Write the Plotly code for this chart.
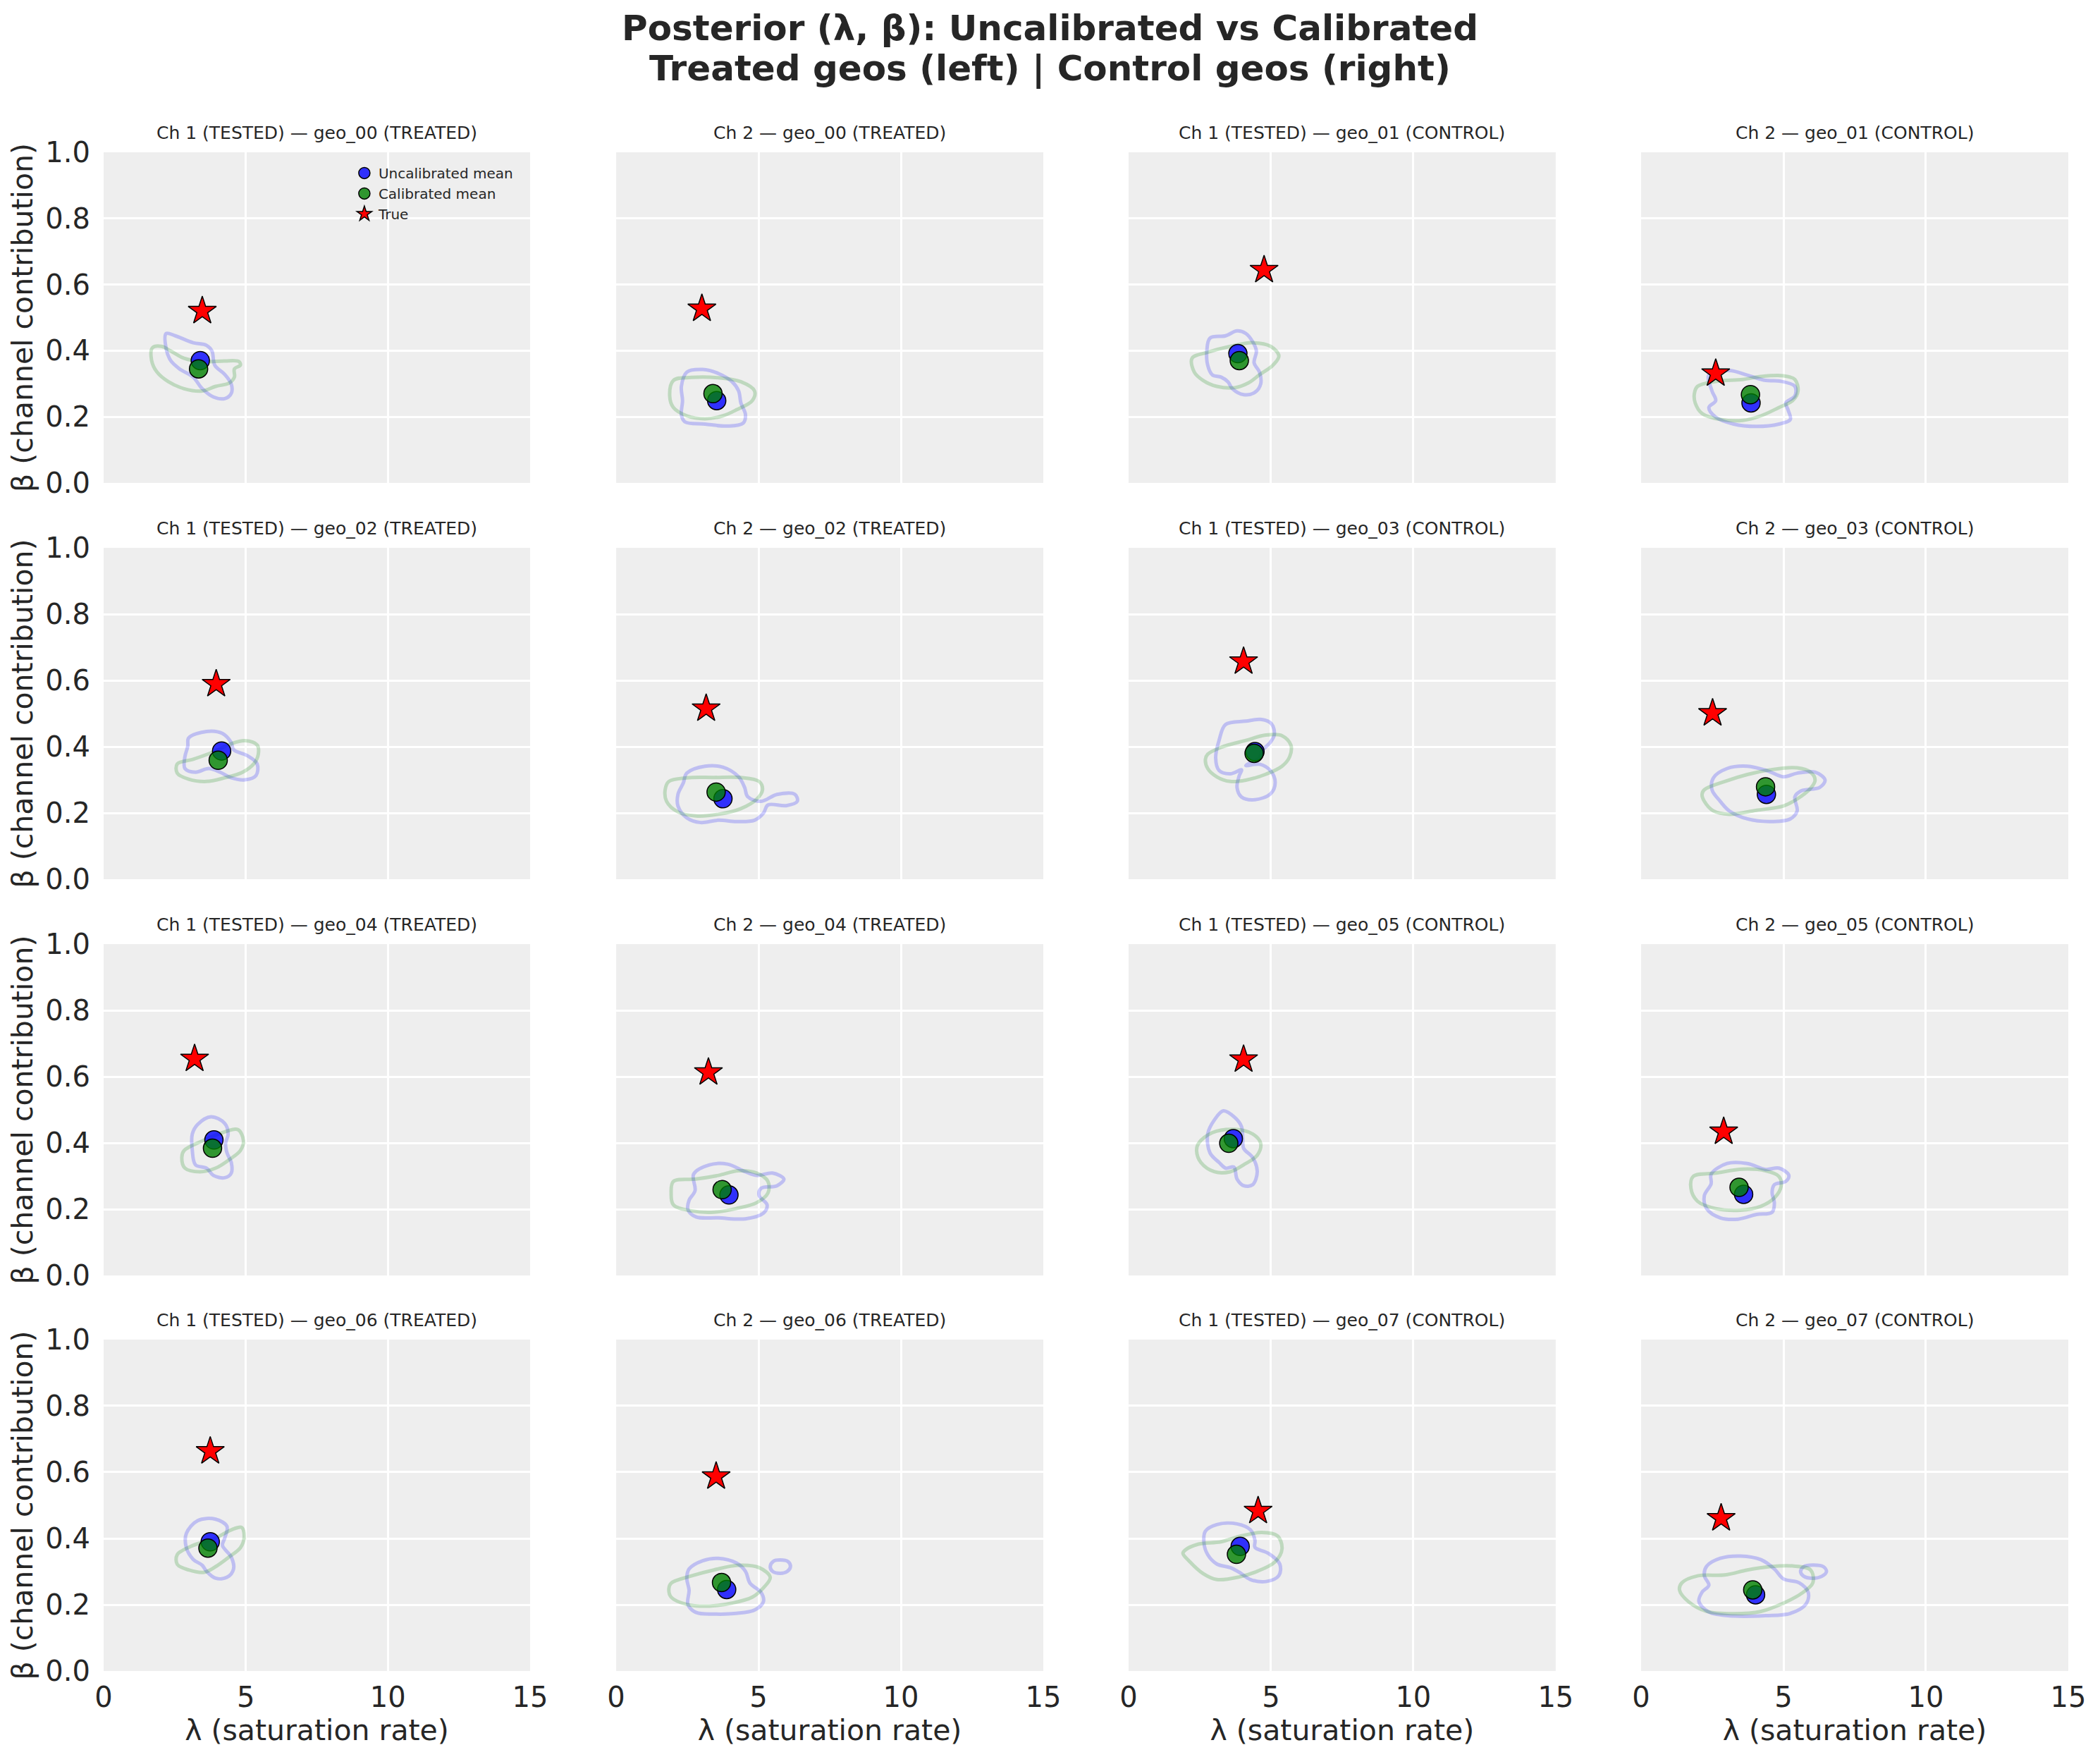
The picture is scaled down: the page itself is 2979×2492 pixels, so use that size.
import plotly.graph_objects as go
from plotly.subplots import make_subplots

# geos shown in each row (treated on the left pair, control on the right pair)
TREATED_GEOS = ["geo_00", "geo_02", "geo_04", "geo_06"]
CONTROL_GEOS = ["geo_01", "geo_03", "geo_05", "geo_07"]

# per panel values, row-major (row: geo pair, col: ch1 treated, ch2 treated, ch1 control, ch2 control)
TRUE_LAM = [3.47, 3.01, 4.76, 2.62, 3.96, 3.16, 4.04, 2.51, 3.20, 3.24, 4.04, 2.90, 3.75, 3.51, 4.55, 2.81]
TRUE_BETA = [0.520, 0.527, 0.644, 0.331, 0.589, 0.515, 0.657, 0.501, 0.654, 0.613, 0.652, 0.434, 0.663, 0.587, 0.483, 0.461]
UNCAL_LAM = [3.40, 3.53, 3.84, 3.86, 4.15, 3.75, 4.44, 4.40, 3.88, 3.96, 3.68, 3.60, 3.75, 3.88, 3.92, 4.02]
UNCAL_BETA = [0.370, 0.249, 0.391, 0.242, 0.387, 0.243, 0.385, 0.256, 0.409, 0.243, 0.413, 0.245, 0.390, 0.246, 0.376, 0.230]
CAL_LAM = [3.34, 3.40, 3.89, 3.84, 4.03, 3.51, 4.41, 4.37, 3.83, 3.72, 3.52, 3.44, 3.67, 3.70, 3.79, 3.92]
CAL_BETA = [0.345, 0.270, 0.370, 0.267, 0.359, 0.263, 0.380, 0.279, 0.384, 0.259, 0.399, 0.266, 0.371, 0.267, 0.352, 0.245]

# KDE outlines, (lambda, beta)
UNCAL_GEO00_CH1 = [(2.20, 0.452), (2.52, 0.445), (3.15, 0.424), (3.62, 0.416), (3.81, 0.399), (3.91, 0.356),
                   (4.26, 0.328), (4.49, 0.299), (4.49, 0.271), (4.26, 0.255), (3.86, 0.260), (3.47, 0.285),
                   (3.15, 0.320), (2.67, 0.345), (2.36, 0.370), (2.20, 0.406)]
CAL_GEO00_CH1 = [(1.72, 0.409), (2.04, 0.413), (2.36, 0.399), (2.83, 0.377), (3.47, 0.367), (4.26, 0.369),
                 (4.76, 0.367), (4.81, 0.356), (4.60, 0.345), (4.60, 0.320), (4.41, 0.302), (3.94, 0.292),
                 (3.47, 0.278), (2.83, 0.285), (2.28, 0.306), (1.88, 0.335), (1.69, 0.370)]
UNCAL_GEO00_CH2 = [(2.48, 0.335), (3.04, 0.343), (3.59, 0.331), (4.07, 0.306), (4.30, 0.278), (4.38, 0.242),
                   (4.54, 0.207), (4.46, 0.181), (3.91, 0.172), (3.12, 0.178), (2.41, 0.185), (2.29, 0.206),
                   (2.33, 0.249), (2.29, 0.292)]
CAL_GEO00_CH2 = [(2.01, 0.310), (2.64, 0.319), (3.59, 0.318), (4.38, 0.306), (4.86, 0.278), (4.78, 0.249),
                 (4.22, 0.221), (3.75, 0.203), (3.12, 0.194), (2.48, 0.203), (2.01, 0.228), (1.88, 0.263)]
UNCAL_GEO01_CH1 = [(2.86, 0.438), (3.41, 0.445), (3.81, 0.460), (4.12, 0.452), (4.36, 0.427), (4.49, 0.399),
                   (4.41, 0.363), (4.60, 0.335), (4.64, 0.299), (4.44, 0.274), (4.04, 0.267), (3.65, 0.285),
                   (3.49, 0.306), (3.25, 0.320), (2.94, 0.327), (2.78, 0.356), (2.75, 0.399)]
CAL_GEO01_CH1 = [(2.23, 0.377), (2.78, 0.395), (3.57, 0.413), (4.36, 0.424), (4.99, 0.413), (5.28, 0.384),
                 (5.07, 0.356), (4.60, 0.327), (4.20, 0.302), (3.73, 0.288), (3.10, 0.292), (2.62, 0.310),
                 (2.31, 0.335)]
UNCAL_GEO01_CH2 = [(2.38, 0.327), (3.10, 0.340), (3.73, 0.326), (4.37, 0.310), (4.87, 0.308), (5.40, 0.292),
                   (5.40, 0.263), (5.08, 0.242), (5.16, 0.221), (5.24, 0.192), (4.84, 0.178), (4.05, 0.171),
                   (3.25, 0.178), (2.62, 0.199), (2.38, 0.228), (2.62, 0.249), (2.49, 0.278)]
CAL_GEO01_CH2 = [(1.98, 0.292), (2.62, 0.307), (3.57, 0.313), (4.21, 0.322), (5.00, 0.324), (5.40, 0.313),
                 (5.51, 0.278), (5.32, 0.249), (4.84, 0.228), (4.21, 0.203), (3.57, 0.189), (2.78, 0.192),
                 (2.14, 0.210), (1.90, 0.242), (1.87, 0.270)]
UNCAL_GEO02_CH1 = [(2.99, 0.426), (3.62, 0.446), (4.18, 0.440), (4.49, 0.412), (4.57, 0.391), (5.05, 0.373),
                   (5.40, 0.348), (5.36, 0.313), (4.97, 0.300), (4.49, 0.306), (4.10, 0.323), (3.70, 0.334),
                   (3.23, 0.323), (2.86, 0.334), (2.86, 0.370), (2.96, 0.401)]
CAL_GEO02_CH1 = [(2.59, 0.348), (3.15, 0.362), (3.86, 0.384), (4.49, 0.409), (4.97, 0.418), (5.40, 0.405),
                 (5.44, 0.377), (5.28, 0.348), (4.89, 0.323), (4.26, 0.306), (3.62, 0.295), (2.99, 0.302),
                 (2.59, 0.320)]
UNCAL_GEO02_CH2 = [(2.48, 0.320), (3.12, 0.341), (3.75, 0.338), (4.30, 0.309), (4.51, 0.277), (4.62, 0.249),
                   (5.09, 0.235), (5.65, 0.256), (6.28, 0.256), (6.36, 0.235), (5.97, 0.222), (5.33, 0.224),
                   (5.17, 0.199), (4.86, 0.178), (4.22, 0.174), (3.59, 0.178), (2.96, 0.171), (2.48, 0.185),
                   (2.17, 0.221), (2.17, 0.256), (2.36, 0.291)]
CAL_GEO02_CH2 = [(1.85, 0.295), (2.48, 0.306), (3.43, 0.307), (4.38, 0.307), (5.02, 0.295), (5.14, 0.270),
                 (4.94, 0.242), (4.38, 0.213), (3.59, 0.196), (2.80, 0.191), (2.17, 0.203), (1.77, 0.235),
                 (1.72, 0.270)]
UNCAL_GEO03_CH1 = [(3.41, 0.467), (4.12, 0.477), (4.68, 0.482), (5.02, 0.469), (5.12, 0.437), (4.96, 0.411),
                   (4.68, 0.387), (4.60, 0.366), (4.28, 0.352), (4.12, 0.343), (4.60, 0.347), (4.99, 0.327),
                   (5.15, 0.292), (4.99, 0.258), (4.44, 0.240), (3.97, 0.248), (3.81, 0.277), (3.89, 0.313),
                   (3.97, 0.330), (3.57, 0.318), (3.18, 0.328), (3.06, 0.366), (3.18, 0.419)]
CAL_GEO03_CH1 = [(2.78, 0.377), (3.25, 0.398), (4.12, 0.419), (4.83, 0.435), (5.39, 0.433), (5.70, 0.405),
                 (5.66, 0.370), (5.39, 0.341), (4.83, 0.317), (4.12, 0.299), (3.57, 0.295), (3.10, 0.309),
                 (2.78, 0.334), (2.70, 0.362)]
UNCAL_GEO03_CH2 = [(2.54, 0.306), (3.02, 0.334), (3.73, 0.341), (4.44, 0.327), (5.00, 0.309), (5.48, 0.320),
                   (6.11, 0.323), (6.46, 0.299), (6.27, 0.277), (5.63, 0.267), (5.40, 0.249), (5.48, 0.206),
                   (5.24, 0.182), (4.52, 0.174), (3.73, 0.182), (3.10, 0.206), (2.78, 0.235), (2.49, 0.270)]
CAL_GEO03_CH2 = [(2.22, 0.270), (2.94, 0.295), (3.73, 0.316), (4.52, 0.330), (5.48, 0.336), (5.95, 0.323),
                 (6.11, 0.299), (5.95, 0.274), (5.48, 0.242), (5.00, 0.221), (4.05, 0.208), (3.10, 0.196),
                 (2.54, 0.206), (2.22, 0.235), (2.14, 0.256)]
UNCAL_GEO04_CH1 = [(3.31, 0.456), (3.78, 0.479), (4.26, 0.459), (4.38, 0.427), (4.29, 0.399), (4.34, 0.370),
                   (4.49, 0.341), (4.49, 0.309), (4.26, 0.295), (3.86, 0.302), (3.62, 0.324), (3.23, 0.334),
                   (3.12, 0.377), (3.12, 0.427)]
CAL_GEO04_CH1 = [(2.83, 0.377), (3.47, 0.406), (4.18, 0.431), (4.73, 0.440), (4.92, 0.406), (4.81, 0.377),
                 (4.41, 0.349), (3.94, 0.324), (3.39, 0.313), (2.86, 0.324), (2.75, 0.356)]
UNCAL_GEO04_CH2 = [(2.72, 0.306), (3.28, 0.334), (3.91, 0.336), (4.54, 0.313), (4.94, 0.302), (5.49, 0.309),
                   (5.89, 0.291), (5.65, 0.271), (5.09, 0.263), (5.02, 0.241), (5.30, 0.213), (5.17, 0.188),
                   (4.54, 0.171), (3.59, 0.174), (2.80, 0.177), (2.52, 0.199), (2.56, 0.227), (2.77, 0.256)]
CAL_GEO04_CH2 = [(2.01, 0.284), (2.80, 0.291), (3.59, 0.302), (4.30, 0.316), (4.94, 0.309), (5.33, 0.284),
                 (5.33, 0.249), (4.94, 0.220), (4.22, 0.202), (3.43, 0.191), (2.64, 0.195), (2.01, 0.213),
                 (1.93, 0.249)]
UNCAL_GEO05_CH1 = [(3.02, 0.470), (3.33, 0.497), (3.73, 0.477), (3.97, 0.449), (4.01, 0.413), (4.04, 0.384),
                   (4.36, 0.356), (4.52, 0.314), (4.36, 0.274), (4.04, 0.271), (3.81, 0.291), (3.70, 0.327),
                   (3.41, 0.324), (3.18, 0.341), (2.86, 0.370), (2.78, 0.427)]
CAL_GEO05_CH1 = [(2.46, 0.399), (2.94, 0.431), (3.73, 0.441), (4.36, 0.427), (4.64, 0.399), (4.52, 0.363),
                 (4.04, 0.334), (3.57, 0.313), (3.02, 0.313), (2.54, 0.341), (2.39, 0.377)]
UNCAL_GEO05_CH2 = [(2.46, 0.306), (3.02, 0.338), (3.73, 0.338), (4.37, 0.320), (4.84, 0.324), (5.19, 0.302),
                   (5.08, 0.284), (4.68, 0.274), (4.60, 0.249), (4.68, 0.220), (4.60, 0.191), (4.05, 0.184),
                   (3.41, 0.170), (2.78, 0.174), (2.30, 0.202), (2.22, 0.241), (2.46, 0.277)]
CAL_GEO05_CH2 = [(1.83, 0.299), (2.62, 0.309), (3.57, 0.321), (4.37, 0.316), (4.84, 0.299), (4.92, 0.270),
                 (4.68, 0.234), (4.21, 0.209), (3.49, 0.197), (2.62, 0.202), (1.98, 0.224), (1.75, 0.263)]
UNCAL_GEO06_CH1 = [(3.31, 0.454), (3.94, 0.458), (4.34, 0.436), (4.26, 0.401), (4.18, 0.379), (4.49, 0.344),
                   (4.57, 0.308), (4.34, 0.283), (3.94, 0.280), (3.62, 0.301), (3.47, 0.319), (3.15, 0.337),
                   (2.91, 0.372), (2.91, 0.415)]
CAL_GEO06_CH1 = [(2.59, 0.351), (3.15, 0.379), (3.94, 0.401), (4.49, 0.426), (4.86, 0.433), (4.94, 0.401),
                 (4.81, 0.372), (4.41, 0.344), (3.94, 0.315), (3.54, 0.298), (2.99, 0.305), (2.59, 0.322)]
UNCAL_GEO06_CH2 = [(2.56, 0.308), (3.04, 0.333), (3.59, 0.340), (4.22, 0.326), (4.54, 0.301), (4.70, 0.265),
                   (5.09, 0.237), (5.17, 0.209), (4.86, 0.184), (4.22, 0.174), (3.43, 0.172), (2.80, 0.177),
                   (2.52, 0.201), (2.56, 0.244), (2.48, 0.280)]
UNCAL_GEO06_CH2_ISLAND = [(5.41, 0.315), (5.52, 0.331), (5.76, 0.335), (6.04, 0.330), (6.12, 0.315),
                          (6.00, 0.300), (5.76, 0.295), (5.49, 0.301)]
CAL_GEO06_CH2 = [(1.93, 0.265), (2.64, 0.287), (3.43, 0.305), (4.30, 0.319), (5.02, 0.312), (5.41, 0.283),
                 (5.17, 0.251), (4.78, 0.223), (4.07, 0.205), (3.28, 0.196), (2.48, 0.201), (1.93, 0.223),
                 (1.85, 0.248)]
UNCAL_GEO07_CH1 = [(2.70, 0.422), (3.10, 0.442), (3.81, 0.444), (4.28, 0.426), (4.44, 0.394), (4.44, 0.373),
                   (4.91, 0.355), (5.31, 0.323), (5.28, 0.288), (4.83, 0.270), (4.28, 0.276), (3.89, 0.298),
                   (3.57, 0.312), (3.10, 0.323), (2.78, 0.351), (2.65, 0.386)]
CAL_GEO07_CH1 = [(1.99, 0.365), (2.46, 0.383), (3.25, 0.390), (3.97, 0.408), (4.68, 0.418), (5.23, 0.408),
                 (5.39, 0.369), (5.15, 0.330), (4.52, 0.301), (3.89, 0.284), (3.10, 0.276), (2.62, 0.294),
                 (2.15, 0.330), (1.91, 0.355)]
UNCAL_GEO07_CH2 = [(2.30, 0.316), (2.78, 0.340), (3.49, 0.347), (4.21, 0.336), (4.68, 0.308), (5.00, 0.278),
                   (5.56, 0.266), (5.87, 0.237), (5.79, 0.202), (5.24, 0.174), (4.37, 0.167), (3.25, 0.166),
                   (2.38, 0.178), (2.03, 0.210), (2.14, 0.238), (2.38, 0.259), (2.22, 0.288)]
UNCAL_GEO07_CH2_ISLAND = [(5.60, 0.300), (5.71, 0.315), (6.03, 0.320), (6.40, 0.315), (6.51, 0.300),
                          (6.35, 0.286), (6.03, 0.280), (5.71, 0.286)]
CAL_GEO07_CH2 = [(1.43, 0.266), (1.98, 0.287), (2.94, 0.290), (3.73, 0.305), (4.52, 0.315), (5.32, 0.317),
                 (5.95, 0.305), (6.03, 0.266), (5.63, 0.234), (5.00, 0.205), (4.21, 0.180), (3.25, 0.173),
                 (2.30, 0.180), (1.67, 0.209), (1.35, 0.244)]

UNCAL_CONTOURS = [
    [UNCAL_GEO00_CH1], [UNCAL_GEO00_CH2], [UNCAL_GEO01_CH1], [UNCAL_GEO01_CH2],
    [UNCAL_GEO02_CH1], [UNCAL_GEO02_CH2], [UNCAL_GEO03_CH1], [UNCAL_GEO03_CH2],
    [UNCAL_GEO04_CH1], [UNCAL_GEO04_CH2], [UNCAL_GEO05_CH1], [UNCAL_GEO05_CH2],
    [UNCAL_GEO06_CH1], [UNCAL_GEO06_CH2, UNCAL_GEO06_CH2_ISLAND],
    [UNCAL_GEO07_CH1], [UNCAL_GEO07_CH2, UNCAL_GEO07_CH2_ISLAND],
]
CAL_CONTOURS = [
    [CAL_GEO00_CH1], [CAL_GEO00_CH2], [CAL_GEO01_CH1], [CAL_GEO01_CH2],
    [CAL_GEO02_CH1], [CAL_GEO02_CH2], [CAL_GEO03_CH1], [CAL_GEO03_CH2],
    [CAL_GEO04_CH1], [CAL_GEO04_CH2], [CAL_GEO05_CH1], [CAL_GEO05_CH2],
    [CAL_GEO06_CH1], [CAL_GEO06_CH2], [CAL_GEO07_CH1], [CAL_GEO07_CH2],
]

FONT = "DejaVu Sans"
TEXT = "#262626"
# page body keeps its default 8px margin, so the figure is 16px smaller than the window
W, H = 2963, 2476
COL_DOMAINS = [[0.0469, 0.2511], [0.2923, 0.4968], [0.5376, 0.7421], [0.7830, 0.9875]]
ROW_DOMAINS = [[0.7266, 0.9160], [0.4996, 0.6894], [0.2726, 0.4624], [0.0460, 0.2359]]


def panel_title(row, col):
    if col == 0:
        return f"Ch 1 (TESTED) — {TREATED_GEOS[row]} (TREATED)"
    if col == 1:
        return f"Ch 2 — {TREATED_GEOS[row]} (TREATED)"
    if col == 2:
        return f"Ch 1 (TESTED) — {CONTROL_GEOS[row]} (CONTROL)"
    return f"Ch 2 — {CONTROL_GEOS[row]} (CONTROL)"


def loop_xy(points):
    xs = [p[0] for p in points] + [points[0][0]]
    ys = [p[1] for p in points] + [points[0][1]]
    return xs, ys


fig = make_subplots(rows=4, cols=4)

for r in range(4):
    for c in range(4):
        i = r * 4 + c
        first = i == 0
        for loop in UNCAL_CONTOURS[i]:
            xs, ys = loop_xy(loop)
            fig.add_trace(go.Scatter(x=xs, y=ys, mode="lines", showlegend=False, hoverinfo="skip",
                                     line=dict(color="rgba(0,0,255,0.2)", width=5, shape="spline", smoothing=1.0)),
                          row=r + 1, col=c + 1)
        for loop in CAL_CONTOURS[i]:
            xs, ys = loop_xy(loop)
            fig.add_trace(go.Scatter(x=xs, y=ys, mode="lines", showlegend=False, hoverinfo="skip",
                                     line=dict(color="rgba(0,128,0,0.2)", width=5, shape="spline", smoothing=1.0)),
                          row=r + 1, col=c + 1)
        fig.add_trace(go.Scatter(x=[UNCAL_LAM[i]], y=[UNCAL_BETA[i]], mode="markers",
                                 name="Uncalibrated mean", showlegend=first,
                                 marker=dict(size=26, color="rgba(0,0,255,0.8)",
                                             line=dict(color="black", width=1.5))),
                      row=r + 1, col=c + 1)
        fig.add_trace(go.Scatter(x=[CAL_LAM[i]], y=[CAL_BETA[i]], mode="markers",
                                 name="Calibrated mean", showlegend=first,
                                 marker=dict(size=26, color="rgba(0,128,0,0.8)",
                                             line=dict(color="black", width=1.5))),
                      row=r + 1, col=c + 1)
        fig.add_trace(go.Scatter(x=[TRUE_LAM[i]], y=[TRUE_BETA[i]], mode="markers",
                                 name="True", showlegend=first,
                                 marker=dict(size=30, symbol="star", color="red",
                                             line=dict(color="black", width=1.5))),
                      row=r + 1, col=c + 1)

        n = "" if i == 0 else str(i + 1)
        fig.layout["xaxis" + n].update(
            domain=COL_DOMAINS[c], range=[0, 15], tickvals=[0, 5, 10, 15], automargin=False,
            showticklabels=(r == 3), ticklabeloverflow="allow",
            showgrid=True, gridcolor="white", gridwidth=2.5,
            zeroline=False, showline=False, ticks="outside", ticklen=2, tickcolor="rgba(0,0,0,0)",
            tickfont=dict(family=FONT, size=40, color=TEXT),
            title=dict(text="λ (saturation rate)" if r == 3 else "",
                       font=dict(family=FONT, size=41, color=TEXT), standoff=9),
        )
        fig.layout["yaxis" + n].update(
            domain=ROW_DOMAINS[r], range=[0, 1], tickvals=[0, 0.2, 0.4, 0.6, 0.8, 1.0], automargin=False,
            tickformat=".1f", showticklabels=(c == 0), ticklabeloverflow="allow",
            showgrid=True, gridcolor="white", gridwidth=2.5,
            zeroline=False, showline=False, ticks="outside", ticklen=10, tickcolor="rgba(0,0,0,0)",
            tickfont=dict(family=FONT, size=40, color=TEXT),
            title=dict(text="β (channel contribution)" if c == 0 else "",
                       font=dict(family=FONT, size=41, color=TEXT), standoff=6),
        )
        fig.add_annotation(
            text=panel_title(r, c), xref="paper", yref="paper",
            x=sum(COL_DOMAINS[c]) / 2, y=ROW_DOMAINS[r][1], xanchor="center", yanchor="bottom",
            yshift=11, showarrow=False, font=dict(family=FONT, size=25, color=TEXT),
        )

TITLE_LINES = ["Posterior (λ, β): Uncalibrated vs Calibrated", "Treated geos (left) | Control geos (right)"]
for k, line in enumerate(TITLE_LINES):
    fig.add_annotation(
        text=line, xref="paper", yref="paper", x=0.5, y=1 - (32 + 57 * k) / H,
        xanchor="center", yanchor="middle", showarrow=False,
        font=dict(family=FONT, size=50, color=TEXT, weight="bold"),
    )

fig.update_layout(
    width=W,
    height=H,
    margin=dict(l=0, r=0, t=0, b=0),
    paper_bgcolor="white",
    plot_bgcolor="#EEEEEE",
    font=dict(family=FONT, color=TEXT),
    legend=dict(
        x=0.165, y=0.912, xanchor="left", yanchor="top",
        bgcolor="rgba(0,0,0,0)", font=dict(family=FONT, size=20, color=TEXT),
        itemsizing="trace", tracegroupgap=0,
    ),
)

fig.write_html("out.html")
